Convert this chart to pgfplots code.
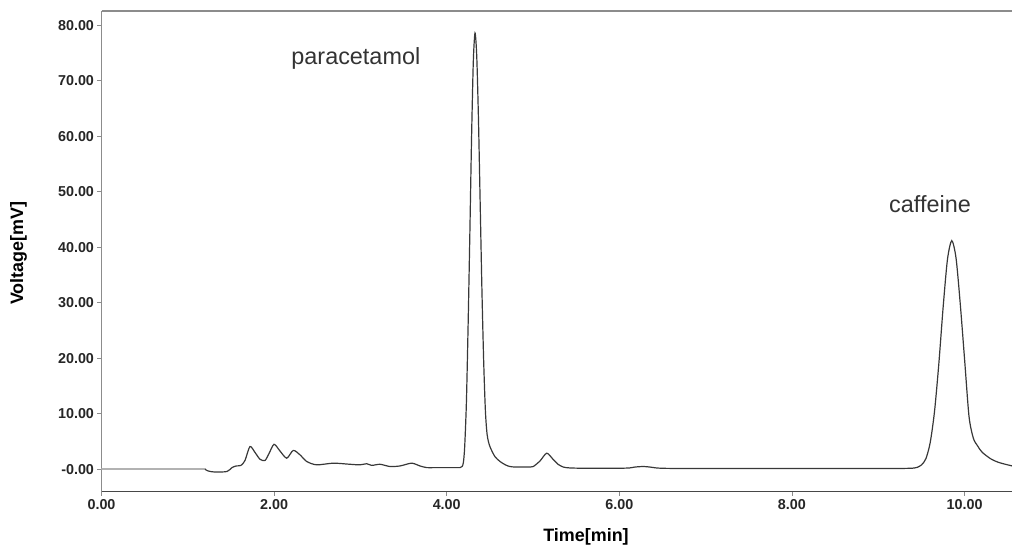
\documentclass[border=0pt]{standalone}
\usepackage{fontspec}
\setmainfont{Liberation Sans}
\usepackage{pgfplots}
\pgfplotsset{compat=1.18}

\definecolor{curve}{rgb}{0.22,0.22,0.22}
\definecolor{axgray}{rgb}{0.55,0.55,0.55}
\definecolor{axdark}{rgb}{0.28,0.28,0.28}

\begin{document}
\begin{tikzpicture}

\begin{axis}[%
width=910.5bp,
height=480.7bp,
at={(0,0)},
anchor=south west,
scale only axis,
xmin=0,
xmax=10.55,
ymin=-4.04,
ymax=82.58,
axis x line=bottom,
axis y line=left,
axis line style={-},
x axis line style={draw=axdark, line width=1.4bp},
y axis line style={draw=axgray, line width=1.4bp},
xtick={0,2,4,6,8,10},
xticklabels={0.00,2.00,4.00,6.00,8.00,10.00},
ytick={0,10,20,30,40,50,60,70,80},
yticklabels={-0.00,10.00,20.00,30.00,40.00,50.00,60.00,70.00,80.00},
tick align=outside,
major tick length=4bp,
tick style={draw=axgray, line width=0.8bp},
ticklabel style={font=\fontsize{14.4}{16}\selectfont\bfseries, text=black!85},
]
\addplot[color=black!30, line width=2bp, forget plot] coordinates {(0,0) (1.21,0)};
\addplot[color=curve, line width=1.2bp, smooth, tension=0.45, forget plot] table[row sep=crcr] {%
1.20	0.0\\
1.234	-0.3\\
1.315	-0.5\\
1.454	-0.4\\
1.512	0.3\\
1.559	0.6\\
1.616	0.7\\
1.663	1.6\\
1.72	4.1\\
1.78	3.0\\
1.837	1.8\\
1.895	1.6\\
1.94	2.8\\
1.999	4.5\\
2.068	3.3\\
2.146	2.0\\
2.222	3.4\\
2.30	2.6\\
2.378	1.4\\
2.494	0.8\\
2.686	1.1\\
2.88	0.9\\
2.995	0.8\\
3.073	1.0\\
3.131	0.7\\
3.227	0.9\\
3.343	0.5\\
3.459	0.6\\
3.594	1.1\\
3.69	0.6\\
3.768	0.3\\
3.85	0.3\\
3.95	0.3\\
4.05	0.3\\
4.12	0.3\\
4.154	0.3\\
4.178	0.5\\
4.193	1.2\\
4.208	4.0\\
4.228	12\\
4.248	26\\
4.268	42.4\\
4.288	59.8\\
4.308	73.4\\
4.328	78.6\\
4.348	74.4\\
4.368	63\\
4.388	47.7\\
4.408	32.3\\
4.428	19.6\\
4.448	10.6\\
4.468	6.3\\
4.498	4.2\\
4.558	2.3\\
4.618	1.4\\
4.68	0.8\\
4.73	0.5\\
4.80	0.4\\
4.90	0.4\\
4.966	0.4\\
5.004	0.5\\
5.081	1.5\\
5.159	2.9\\
5.232	1.8\\
5.29	0.9\\
5.351	0.4\\
5.42	0.25\\
5.52	0.2\\
5.70	0.2\\
5.90	0.2\\
6.05	0.2\\
6.124	0.25\\
6.18	0.4\\
6.278	0.5\\
6.355	0.4\\
6.425	0.25\\
6.50	0.18\\
6.65	0.15\\
6.935	0.15\\
7.50	0.15\\
8.00	0.15\\
8.50	0.15\\
9.00	0.15\\
9.25	0.15\\
9.35	0.17\\
9.40	0.2\\
9.452	0.35\\
9.502	0.8\\
9.552	1.9\\
9.602	4.8\\
9.652	10.4\\
9.702	19\\
9.752	29.2\\
9.802	37.8\\
9.852	41.2\\
9.902	38\\
9.952	29.5\\
10.002	19.5\\
10.052	9.5\\
10.102	5.6\\
10.152	4.2\\
10.202	3.1\\
10.302	1.9\\
10.402	1.2\\
10.552	0.6\\
};
\node[anchor=base, font=\fontsize{23.5}{26}\selectfont, text=black!80] at (axis cs:2.947,72.97) {paracetamol};
\node[anchor=base, font=\fontsize{23.5}{26}\selectfont, text=black!80] at (axis cs:9.60,46.3) {caffeine};
\end{axis}

\draw[axgray, line width=1.4bp] (0,480.7bp) -- (910.5bp,480.7bp);
\node[font=\fontsize{18}{20}\selectfont\bfseries] at (484.5bp,-45.3bp) {Time[min]};
\node[rotate=90, font=\fontsize{18}{20}\selectfont\bfseries] at (-83bp,238.4bp) {Voltage[mV]};

\pgfresetboundingbox
\useasboundingbox (-101.5bp,-57.3bp) rectangle (910.5bp,491.7bp);
\end{tikzpicture}
\end{document}
